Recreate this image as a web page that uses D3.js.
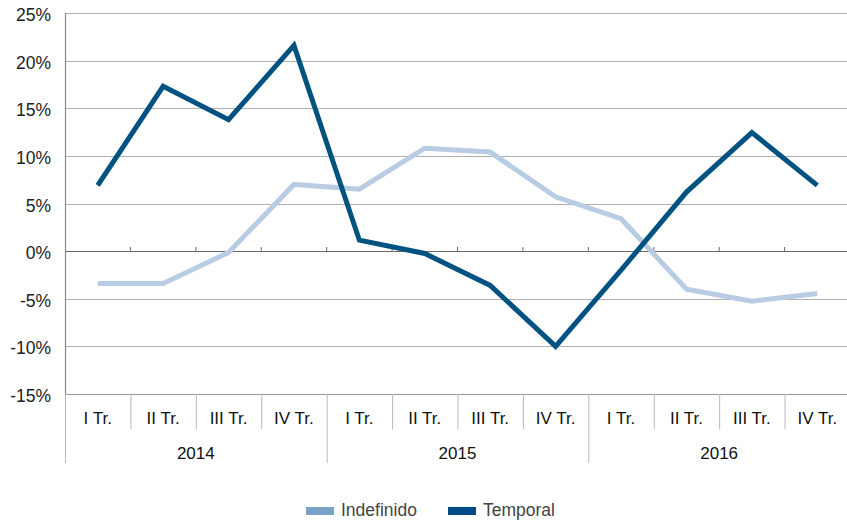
<!DOCTYPE html>
<html><head><meta charset="utf-8">
<script src="https://cdn.jsdelivr.net/npm/d3@7"></script>
<style>body{margin:0;background:#fff}svg{display:block}text{font-family:"Liberation Sans",Arial,Helvetica,sans-serif}</style>
</head><body><svg id="c" width="847" height="521"></svg>
<script>
const quarters = ["I Tr.","II Tr.","III Tr.","IV Tr.","I Tr.","II Tr.","III Tr.","IV Tr.","I Tr.","II Tr.","III Tr.","IV Tr."];
const years = ["2014","2015","2016"];
const indefinido = [-3.4,-3.4,-0.15,7.0,6.5,10.8,10.4,5.7,3.4,-4.0,-5.25,-4.45];
const temporal = [6.9,17.3,13.8,21.6,1.15,-0.25,-3.6,-10.0,-2.0,6.2,12.45,6.9];
const yTicks = [-15,-10,-5,0,5,10,15,20,25];
const seriesNames = ["Indefinido","Temporal"];

const svg = d3.select("#c");
const x = d3.scaleBand().domain(d3.range(quarters.length)).range([65,850]);
const y = d3.scaleLinear().domain([-15,25]).range([394,13]);
const font = "17px";

// gridlines
svg.append("g").selectAll("line").data(yTicks).join("line")
  .attr("x1",65).attr("x2",847)
  .attr("y1",d=>Math.round(y(d))+0.5).attr("y2",d=>Math.round(y(d))+0.5)
  .attr("stroke",d=>d===0?"#6a6a6a":(d===-15?"#999":"#b0b0b0")).attr("stroke-width",1.2);

// tick marks on zero line
svg.append("g").selectAll("line").data(d3.range(1,quarters.length)).join("line")
  .attr("x1",d=>x(d)).attr("x2",d=>x(d))
  .attr("y1",Math.round(y(0))).attr("y2",Math.round(y(0))-4)
  .attr("stroke","#6a6a6a").attr("stroke-width",1);

// y axis line
svg.append("line").attr("x1",65.5).attr("x2",65.5).attr("y1",13).attr("y2",394)
  .attr("stroke","#888").attr("stroke-width",1.2);
// y labels
svg.append("g").selectAll("text").data(yTicks).join("text")
  .attr("x",51).attr("y",d=>y(d)+8).attr("text-anchor","end")
  .attr("font-size","17.5px").attr("fill","#222").text(d=>d+"%");

// category separators
svg.append("g").selectAll("line").data(d3.range(0,quarters.length+1)).join("line")
  .attr("x1",d=>(d<quarters.length?x(d):x.range()[1])+0.5)
  .attr("x2",d=>(d<quarters.length?x(d):x.range()[1])+0.5)
  .attr("y1",394).attr("y2",d=>d%4===0?463:429)
  .attr("stroke","#b8b8b8").attr("stroke-width",1);

svg.append("g").selectAll("text").data(quarters).join("text")
  .attr("x",(d,i)=>x(i)+x.bandwidth()/2).attr("y",424)
  .attr("text-anchor","middle").attr("font-size",font).attr("fill","#111").text(d=>d);

svg.append("g").selectAll("text").data(years).join("text")
  .attr("x",(d,i)=>x(i*4)+2*x.bandwidth()).attr("y",459)
  .attr("text-anchor","middle").attr("font-size",font).attr("fill","#111").text(d=>d);

const line = d3.line().x((d,i)=>x(i)+x.bandwidth()/2).y(d=>y(d));
svg.append("path").datum(indefinido).attr("d",line).attr("fill","none")
  .attr("stroke","#b8cce3").attr("stroke-width",5);
svg.append("path").datum(temporal).attr("d",line).attr("fill","none")
  .attr("stroke","#005280").attr("stroke-width",5);

// legend
const legendX = [306,448];
const legendColors = ["#7aa1c6","#004a86"];
const lg = svg.append("g").selectAll("g").data(seriesNames).join("g");
lg.append("rect").attr("x",(d,i)=>legendX[i]).attr("y",507).attr("width",28).attr("height",8)
  .attr("fill",(d,i)=>legendColors[i]);
lg.append("text").attr("x",(d,i)=>legendX[i]+35).attr("y",516)
  .attr("font-size","17.5px").attr("fill","#444").text(d=>d);
</script></body></html>
